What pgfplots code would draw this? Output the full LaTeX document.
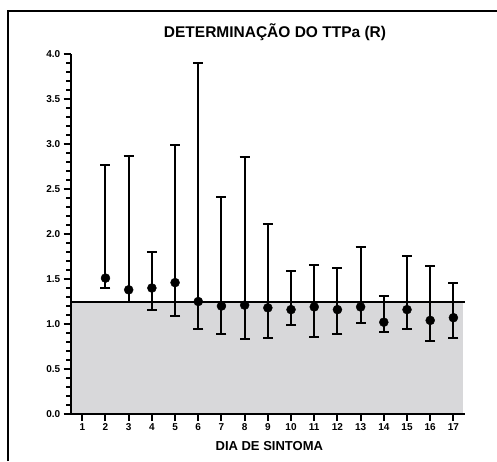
\documentclass[border=0pt]{standalone}
\usepackage{pgfplots}
\pgfplotsset{compat=1.18}
\usepackage{fontspec}
\setmainfont{Liberation Sans}
\begin{document}
\begin{tikzpicture}[x=1pt,y=1pt]
\useasboundingbox (-70.7,-47) rectangle (426.3,414);
\begin{axis}[
  at={(0,0)}, anchor=south west,
  scale only axis, width=394.3pt, height=360pt,
  xmin=0.5, xmax=17.5, ymin=0, ymax=4,
  axis lines=left, axis line style={line width=2pt, -},
  axis on top,
  xtick={1,...,17}, ytick={0,0.5,...,4},
  minor y tick num=4,
  yticklabel style={/pgf/number format/.cd, fixed, fixed zerofill, precision=1},
  ticklabel style={font=\bfseries\fontsize{10}{11}\selectfont},
  xticklabel style={yshift=1pt},
  /pgf/number format/assume math mode=true,
  tick align=outside, major tick length=7pt, minor tick length=4.5pt,
  every tick/.style={line width=2pt, black},
  clip=false,
]
\addplot[fill={rgb,255:red,216;green,216;blue,218}, draw=none] coordinates {(0.5,1.24) (17.4,1.24)} \closedcycle;
\addplot[line width=2pt, black] coordinates {(0.5,1.24) (17.5,1.24)};
\addplot[only marks, mark=*, mark size=4.5pt, black,
  error bars/.cd, y dir=both, y explicit,
  error bar style={line width=2pt},
  error mark options={rotate=90, mark size=5pt, line width=2pt}]
  table[x=x, y=y, y error plus expr=\thisrow{hi}-\thisrow{y}, y error minus expr=\thisrow{y}-\thisrow{lo}] {
x y lo hi
2 1.51 1.40 2.77
3 1.38 1.25 2.87
4 1.40 1.16 1.80
5 1.46 1.09 2.99
6 1.25 0.94 3.90
7 1.20 0.89 2.41
8 1.21 0.83 2.86
9 1.18 0.84 2.11
10 1.16 0.99 1.59
11 1.19 0.86 1.66
12 1.16 0.89 1.62
13 1.19 1.01 1.86
14 1.02 0.91 1.31
15 1.16 0.94 1.76
16 1.04 0.81 1.64
17 1.07 0.84 1.46
};
\end{axis}
\draw[line width=2pt] (-62.7,-47) -- (-62.7,403) -- (426.3,403);
\node[font=\bfseries\fontsize{15.5}{17}\selectfont] at (204.3,382) {DETERMINAÇÃO DO TTPa (R)};
\node[font=\bfseries\fontsize{13}{15}\selectfont] at (198.6,-32) {DIA DE SINTOMA};
\end{tikzpicture}
\end{document}
